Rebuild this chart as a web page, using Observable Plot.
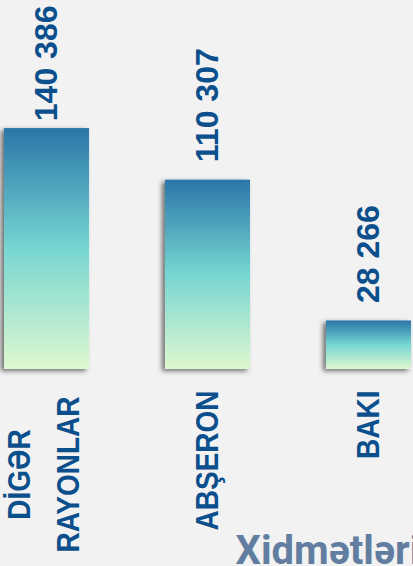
<!DOCTYPE html>
<html>
<head>
<meta charset="utf-8">
<script src="https://cdn.jsdelivr.net/npm/d3@7"></script>
<script src="https://cdn.jsdelivr.net/npm/@observablehq/plot@0.6"></script>
<style>
  html, body { margin: 0; padding: 0; background: #f2f2f2; overflow: hidden; }
</style>
</head>
<body>
<div id="chart"></div>
<script>
const categories = ["DİGƏR\nRAYONLAR", "ABŞERON", "BAKI"];
const values = [140386, 110307, 28266];
const valueLabels = ["140 386", "110 307", "28 266"];
const titleText = "Xidmətləri";

const data = categories.map((c, i) => ({category: c, value: values[i], label: valueLabels[i]}));
const maxValue = d3.max(values);

const textColor = "#0b4f8c";
const labelFont = "'Liberation Sans', Arial, sans-serif";

const defs = () => {
  const d = d3.create("svg:defs");
  const g = d.append("linearGradient").attr("id", "barGrad")
    .attr("x1", 0).attr("y1", 0).attr("x2", 0).attr("y2", 1);
  g.append("stop").attr("offset", "0%").attr("stop-color", "#2a76a8");
  g.append("stop").attr("offset", "50%").attr("stop-color", "#77d6d2");
  g.append("stop").attr("offset", "100%").attr("stop-color", "#def8cf");
  const f = d.append("filter").attr("id", "barShadow")
    .attr("x", "-20%").attr("y", "-10%").attr("width", "140%").attr("height", "130%");
  f.append("feDropShadow").attr("dx", -3).attr("dy", 2).attr("stdDeviation", 2.5)
    .attr("flood-color", "#000").attr("flood-opacity", 0.55);
  return d.node();
};

const chart = Plot.plot({
  width: 413,
  height: 566,
  marginLeft: 4,
  marginRight: 2,
  marginTop: 0,
  marginBottom: 197,
  style: {background: "#f2f2f2", overflow: "hidden"},
  x: {domain: categories, paddingInner: 0.472, paddingOuter: 0, round: false, axis: null},
  y: {domain: [0, 215000], axis: null},
  marks: [
    defs,
    Plot.barY(data, {x: "category", y: "value", fill: "url(#barGrad)"}),
    // value labels above bars
    Plot.text(data.filter(d => d.value < maxValue), {
      x: "category", y: "value", text: "label", rotate: -90,
      textAnchor: "start", lineAnchor: "middle", dy: -18,
      fill: textColor, fontSize: 32, fontWeight: "bold", fontFamily: labelFont
    }),
    // tallest bar's label pushed down to fit at the top
    Plot.text(data.filter(d => d.value === maxValue), {
      x: "category", frameAnchor: "top", text: "label", rotate: -90,
      textAnchor: "end", lineAnchor: "middle", dy: 5,
      fill: textColor, fontSize: 32, fontWeight: "bold", fontFamily: labelFont
    }),
    // category labels (single line)
    Plot.text(data.filter(d => !d.category.includes("\n")), {
      x: "category", frameAnchor: "bottom", text: "category", rotate: -90,
      textAnchor: "end", lineAnchor: "middle", dy: 21,
      fill: textColor, fontSize: 28, fontWeight: "bold", fontFamily: labelFont
    }),
    // category labels (multi-line, centred)
    Plot.text(data.filter(d => d.category.includes("\n")), {
      x: "category", frameAnchor: "bottom", text: "category", rotate: -90,
      textAnchor: "middle", lineAnchor: "middle", dx: -8, dy: 105, lineHeight: 1.55,
      fill: textColor, fontSize: 28, fontWeight: "bold", fontFamily: labelFont
    }),
    // cut-off title at the bottom
    Plot.text([titleText], {
      frameAnchor: "bottom-left", text: d => d, textAnchor: "start", lineAnchor: "bottom",
      dx: 231, dy: 194, fill: "#617ea0", fontSize: 40, fontWeight: "bold",
      fontFamily: "Roboto, 'Open Sans', sans-serif"
    })
  ]
});

const barG = chart.querySelector('g[aria-label="bar"]');
if (barG) barG.setAttribute("filter", "url(#barShadow)");
// slightly taller glyphs for the category labels, as in the reference
chart.querySelectorAll('g[aria-label="text"] text').forEach(t => {
  if (categories.includes(t.textContent) || t.querySelector("tspan")) {
    const tr = t.getAttribute("transform") || "";
    t.setAttribute("transform", tr + " scale(1,1.12)");
  }
});
document.getElementById("chart").appendChild(chart);
</script>
</body>
</html>
